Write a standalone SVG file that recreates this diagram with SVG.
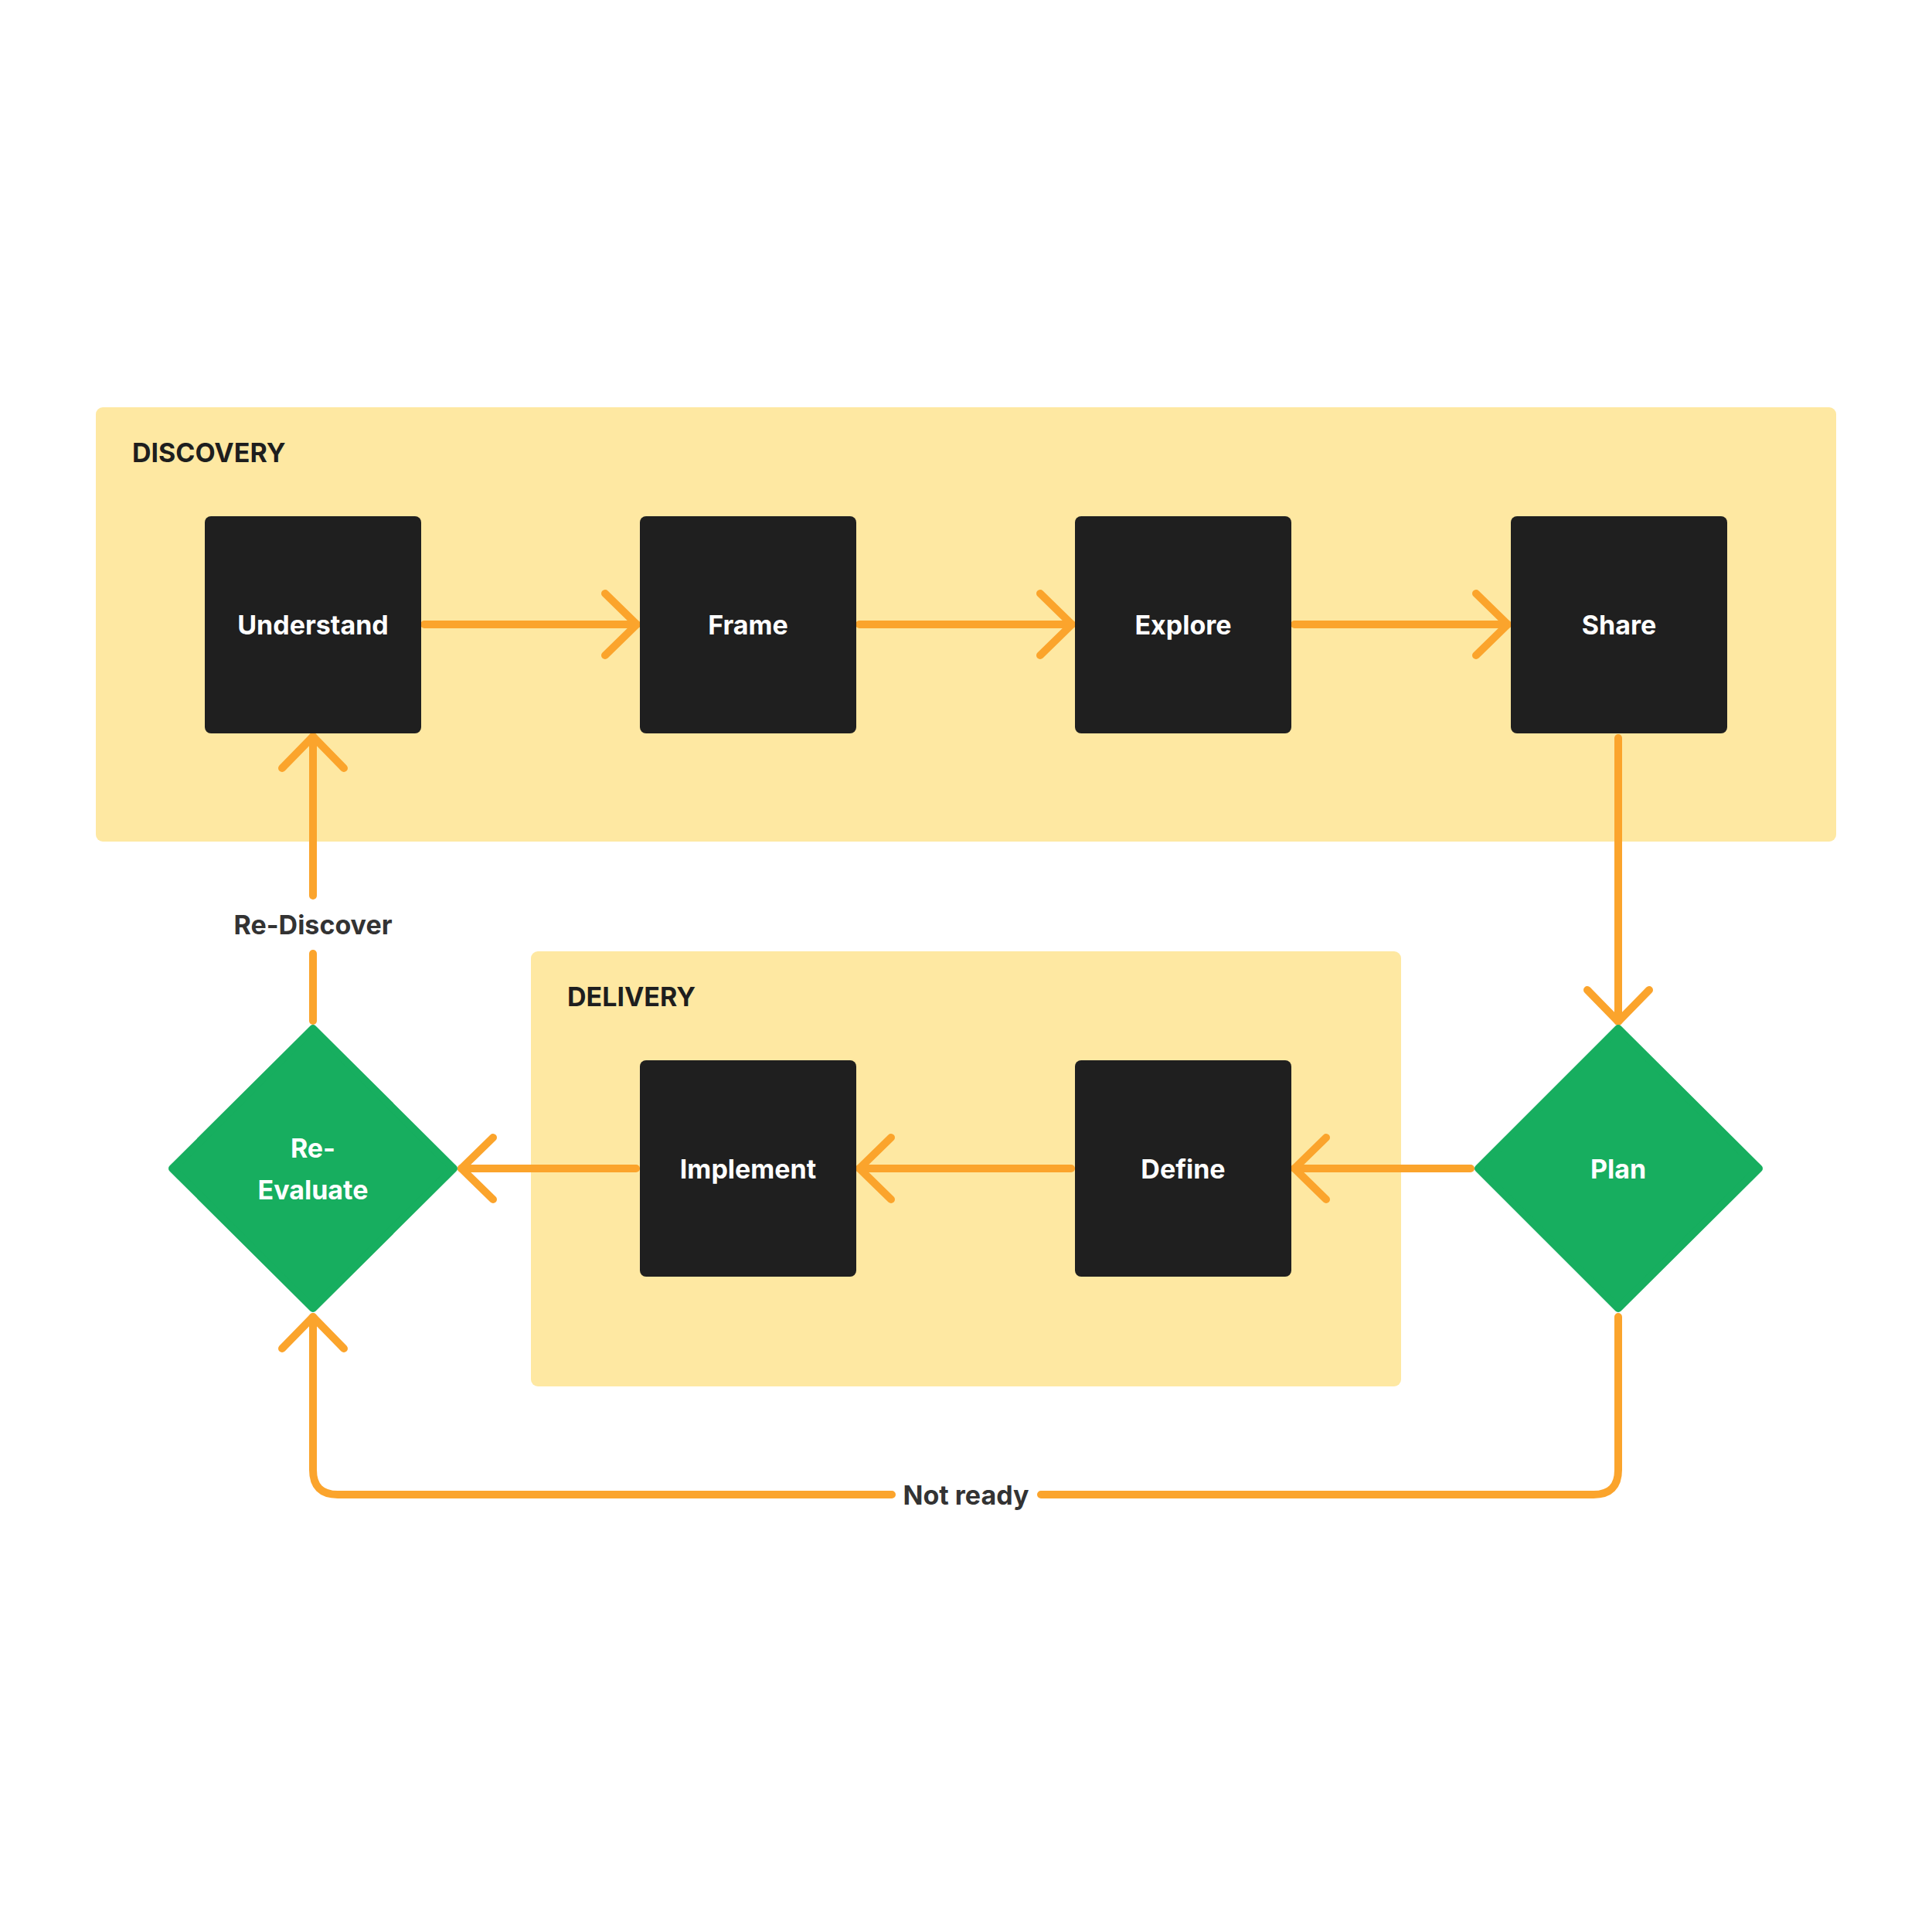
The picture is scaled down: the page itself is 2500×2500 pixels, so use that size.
<svg xmlns="http://www.w3.org/2000/svg" width="2500" height="2500" viewBox="0 0 2500 2500">
<style>
.bg{fill:#FFFFFF}
.group{fill:#FEE8A2}
.gtitle{font-family:Inter,"Liberation Sans",sans-serif;font-weight:700;font-size:34px;fill:#1E1E1E}
.box{fill:#1F1F1F}
.dia{fill:#17AE5F;stroke:#17AE5F;stroke-width:10;stroke-linejoin:round}
.lbl{font-family:Inter,"Liberation Sans",sans-serif;font-weight:700;font-size:34px;fill:#FFFFFF;text-anchor:middle}
.conn{fill:none;stroke:#FBA42C;stroke-width:10;stroke-linecap:round;stroke-linejoin:round}
.clbl{font-family:Inter,"Liberation Sans",sans-serif;font-weight:700;font-size:34px;fill:#333333;text-anchor:middle}
</style>
<defs>
<marker id="arrow" markerUnits="userSpaceOnUse" orient="auto" refX="0" refY="0" markerWidth="120" markerHeight="120" viewBox="-60 -60 120 120" overflow="visible">
<path d="M-41,-40 L0,0 L-41,40" fill="none" stroke="#FBA42C" stroke-width="10" stroke-linecap="round" stroke-linejoin="round"/>
</marker>
</defs>
<rect class="bg" x="0" y="0" width="2500" height="2500"/>
<g id="discovery">
<rect class="group" x="124" y="527" width="2252" height="562" rx="9"/>
<text class="gtitle" x="171" y="598">DISCOVERY</text>
</g>
<g id="delivery">
<rect class="group" x="687" y="1231" width="1126" height="563" rx="9"/>
<text class="gtitle" x="734" y="1302">DELIVERY</text>
</g>
<g id="connectors">
<path class="conn" d="M549,808 L824,808" marker-end="url(#arrow)"/>
<path class="conn" d="M1112,808 L1387,808" marker-end="url(#arrow)"/>
<path class="conn" d="M1675,808 L1951,808" marker-end="url(#arrow)"/>
<path class="conn" d="M2094,955 L2094,1322" marker-end="url(#arrow)"/>
<path class="conn" d="M1903,1512 L1675,1512" marker-end="url(#arrow)"/>
<path class="conn" d="M1386,1512 L1112,1512" marker-end="url(#arrow)"/>
<path class="conn" d="M823,1512 L597,1512" marker-end="url(#arrow)"/>
<path class="conn" d="M405,1321 L405,1234"/>
<path class="conn" d="M405,1159 L405,953" marker-end="url(#arrow)"/>
<path class="conn" d="M2094,1704 L2094,1902 Q2094,1934 2062,1934 L1347,1934"/>
<path class="conn" d="M1154,1934 L437,1934 Q405,1934 405,1902 L405,1704" marker-end="url(#arrow)"/>
<text class="clbl" x="405" y="1209">Re-Discover</text>
<text class="clbl" x="1250" y="1947">Not ready</text>
</g>
<g id="understand">
<rect class="box" x="265" y="668" width="280" height="281" rx="8"/>
<text class="lbl" x="405" y="821">Understand</text>
</g>
<g id="frame">
<rect class="box" x="828" y="668" width="280" height="281" rx="8"/>
<text class="lbl" x="968" y="821">Frame</text>
</g>
<g id="explore">
<rect class="box" x="1391" y="668" width="280" height="281" rx="8"/>
<text class="lbl" x="1531" y="821">Explore</text>
</g>
<g id="share">
<rect class="box" x="1955" y="668" width="280" height="281" rx="8"/>
<text class="lbl" x="2095" y="821">Share</text>
</g>
<g id="plan">
<polygon class="dia" points="2094,1331 2276,1512 2094,1693 1913,1512"/>
<text class="lbl" x="2094" y="1525">Plan</text>
</g>
<g id="define">
<rect class="box" x="1391" y="1372" width="280" height="280" rx="8"/>
<text class="lbl" x="1531" y="1525">Define</text>
</g>
<g id="implement">
<rect class="box" x="828" y="1372" width="280" height="280" rx="8"/>
<text class="lbl" x="968" y="1525">Implement</text>
</g>
<g id="reevaluate">
<polygon class="dia" points="405,1331 587,1512 405,1693 223,1512"/>
<text class="lbl" x="405" y="1498">Re-</text>
<text class="lbl" x="405" y="1552">Evaluate</text>
</g>
</svg>
